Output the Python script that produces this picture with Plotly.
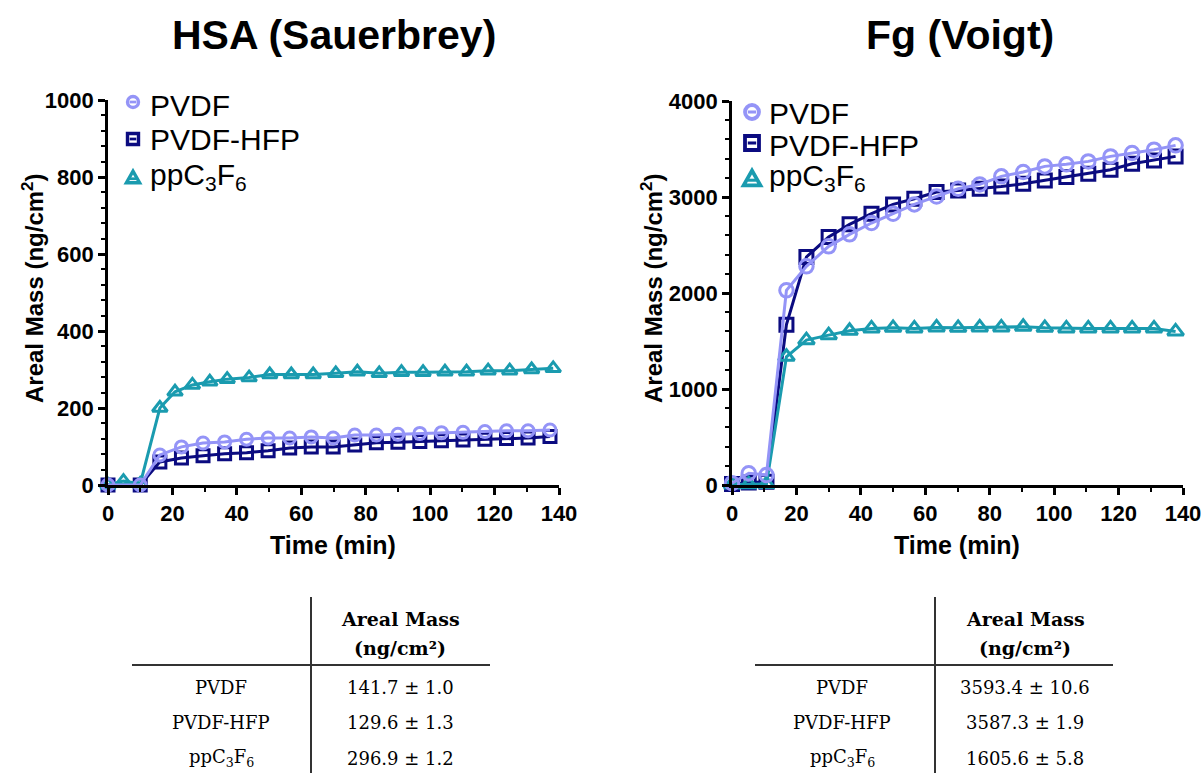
import plotly.graph_objects as go

# ---- HSA adsorption (Sauerbrey), areal mass in ng/cm^2 ----
hsa_pvdf_t = [0, 10, 16.1, 22.8, 29.5, 36.2, 43.0, 49.7, 56.4, 63.1, 69.9, 76.6, 83.3,
              90.0, 96.8, 103.5, 110.2, 117.0, 123.7, 130.4, 137.2]
hsa_pvdf = [0, 0, 78, 99, 109, 112, 119, 122, 122, 125, 122, 130, 130,
            132, 134, 136, 137, 139, 141, 141, 143]

hsa_hfp_t = hsa_pvdf_t
hsa_hfp = [0, 0, 60, 70, 76, 81, 84, 89, 96, 99, 99, 104, 110,
           111, 113, 115, 117, 119, 121, 122, 126]

hsa_pp_t = [0, 4.8, 10, 16.1, 20.8, 26.2, 31.6, 37.0, 43.8, 50.2, 56.9, 63.7, 70.7,
            77.4, 84.2, 91.1, 97.8, 104.6, 111.3, 118.0, 124.7, 131.5, 138.2]
hsa_pp = [0, 10, 3, 200, 242, 260, 268, 275, 279, 287, 287, 287, 290,
          294, 290, 293, 293, 294, 294, 297, 297, 300, 303]

# ---- Fg adsorption (Voigt), areal mass in ng/cm^2 ----
fg_t = [0, 5.2, 10.7, 16.9, 23.1, 30.0, 36.5, 43.3, 50.0, 56.6, 63.5, 70.2, 76.9,
        83.6, 90.4, 97.1, 103.8, 110.6, 117.5, 124.2, 131.0, 137.7]
fg_pvdf = [18, 122, 104, 2028, 2278, 2486, 2611, 2729, 2826, 2923, 3006, 3086, 3131,
           3215, 3260, 3319, 3340, 3371, 3423, 3458, 3493, 3538]
fg_hfp = [10, 25, 35, 1670, 2375, 2583, 2715, 2826, 2923, 2982, 3051, 3069, 3086,
          3110, 3138, 3173, 3208, 3242, 3284, 3346, 3381, 3423]
fg_pp = [5, 8, 10, 1336, 1509, 1561, 1606, 1631, 1637, 1631, 1641, 1637, 1641,
         1641, 1648, 1637, 1631, 1631, 1631, 1631, 1631, 1600]

# ---- summary tables ----
table_rows = ["PVDF", "PVDF-HFP", "ppC<sub>3</sub>F<sub>6</sub>"]
hsa_table = ["141.7 ± 1.0", "129.6 ± 1.3", "296.9 ± 1.2"]
fg_table = ["3593.4 ± 10.6", "3587.3 ± 1.9", "1605.6 ± 5.8"]

series_names = ["PVDF", "PVDF-HFP", "ppC<sub>3</sub>F<sub>6</sub>"]
colors = ["#9494F7", "#0B0B80", "#1A9BAF"]
symbols = ["circle-open", "square-open", "triangle-up-open"]

W, H = 1204, 773
SANS = "Liberation Sans, Arial, sans-serif"
SERIF = "DejaVu Serif, serif"


def px(x):
    return x / W


def py(y):
    return 1 - y / H


fig = go.Figure()

panels = [
    ("x", "y", [(hsa_pvdf_t, hsa_pvdf), (hsa_hfp_t, hsa_hfp), (hsa_pp_t, hsa_pp)], [12, 12, 13]),
    ("x2", "y2", [(fg_t, fg_pvdf), (fg_t, fg_hfp), (fg_t, fg_pp)], [13.5, 13, 14]),
]
draw_order = [1, 2, 0]
for xa, ya, series, sizes in panels:
    for i in draw_order:
        t, v = series[i]
        fig.add_trace(go.Scatter(
            x=t, y=v, xaxis=xa, yaxis=ya, mode="lines+markers", name=series_names[i],
            line=dict(color=colors[i], width=3),
            marker=dict(symbol=symbols[i], size=sizes[i], color=colors[i],
                        line=dict(color=colors[i], width=3)),
            cliponaxis=False, showlegend=False,
        ))

axis_common = dict(
    showline=True, linecolor="black", linewidth=2.6,
    ticks="outside", ticklen=7, tickwidth=2.6, tickcolor="black",
    showgrid=False, zeroline=False,
    tickfont=dict(family=SANS, size=22, color="black", weight="bold"),
)
minor_x = dict(dtick=10, ticks="outside", ticklen=4, tickwidth=2, tickcolor="black")

fig.update_layout(
    width=W, height=H,
    margin=dict(l=0, r=0, t=0, b=0, autoexpand=False),
    paper_bgcolor="white", plot_bgcolor="white",
    showlegend=False,
    xaxis=dict(domain=[px(108), px(559)], range=[0, 140], dtick=20, anchor="y",
               minor=minor_x, **axis_common),
    yaxis=dict(domain=[py(485), py(100)], range=[0, 1000], dtick=200, anchor="x",
               minor=dict(dtick=40, ticks="outside", ticklen=4, tickwidth=2, tickcolor="black"),
               **axis_common),
    xaxis2=dict(domain=[px(732), px(1183)], range=[0, 140], dtick=20, anchor="y2",
                minor=minor_x, **axis_common),
    yaxis2=dict(domain=[py(485), py(101)], range=[0, 4000], dtick=1000, anchor="x2",
                minor=dict(dtick=200, ticks="outside", ticklen=4, tickwidth=2, tickcolor="black"),
                **axis_common),
)

annotations = []
shapes = []


def text(s, x, y, size, family=SANS, xanchor="center", angle=0):
    annotations.append(dict(text=s, x=px(x), y=py(y), xref="paper", yref="paper",
                            xanchor=xanchor, yanchor="middle", textangle=angle,
                            showarrow=False, font=dict(family=family, size=size, color="black")))


# panel titles
text("<b>HSA (Sauerbrey)</b>", 334, 35, 41)
text("<b>Fg (Voigt)</b>", 960, 35, 41)
# axis titles
for cx in [333, 957]:
    text("<b>Time (min)</b>", cx, 545, 25)
for cx in [33, 652]:
    text("<b>Areal Mass (ng/cm<sup>2</sup>)</b>", cx, 289, 24, angle=-90)


# legends: open symbol with the connecting line segment through its centre
def legend_key(i, cx, cy, d, lw, label, tx, ty):
    col = colors[i]
    r = d / 2
    common = dict(xref="paper", yref="paper", line=dict(color=col, width=lw))
    if i == 0:
        shapes.append(dict(type="circle", x0=px(cx - r), x1=px(cx + r),
                           y0=py(cy + r), y1=py(cy - r), **common))
        bar_y = cy
    elif i == 1:
        shapes.append(dict(type="rect", x0=px(cx - r), x1=px(cx + r),
                           y0=py(cy + r), y1=py(cy - r), **common))
        bar_y = cy
    else:
        w = d * 1.2
        h = d * 1.05
        path = (f"M{px(cx - w / 2)},{py(cy + h / 2)} L{px(cx)},{py(cy - h / 2)} "
                f"L{px(cx + w / 2)},{py(cy + h / 2)} Z")
        shapes.append(dict(type="path", path=path, **common))
        bar_y = cy + h * 0.15
    shapes.append(dict(type="line", x0=px(cx - r * 0.6), x1=px(cx + r * 0.6),
                       y0=py(bar_y), y1=py(bar_y), xref="paper", yref="paper",
                       line=dict(color=col, width=lw * 0.8)))
    text(label, tx, ty, 30, xanchor="left")


for i, (cy, ty) in enumerate([(102, 105), (139, 140), (177, 176)]):
    legend_key(i, 133, cy, 11, 3.4, series_names[i], 148, ty)
for i, (cy, ty) in enumerate([(112, 114), (143, 145), (178, 178)]):
    legend_key(i, 752, cy, 14, 3.8, series_names[i], 767, ty)

# summary tables
row_y = [687, 722, 758]
for vline_x, h0, h1, label_x, val_x, values in [
    (311, 132, 490, 221, 400, hsa_table),
    (935, 755, 1113, 842, 1025, fg_table),
]:
    shapes.append(dict(type="line", xref="paper", yref="paper",
                       x0=px(vline_x), x1=px(vline_x), y0=py(597), y1=py(773),
                       line=dict(color="#333333", width=2)))
    shapes.append(dict(type="line", xref="paper", yref="paper",
                       x0=px(h0), x1=px(h1), y0=py(665), y1=py(665),
                       line=dict(color="#333333", width=2)))
    text("<b>Areal Mass</b>", val_x, 619, 19, family=SERIF)
    text("<b>(ng/cm²)</b>", val_x, 648, 19, family=SERIF)
    for ry, lab, val in zip(row_y, table_rows, values):
        text(lab, label_x, ry, 18, family=SERIF)
        text(val, val_x, ry, 18, family=SERIF)

fig.update_layout(annotations=annotations, shapes=shapes)

fig.write_html("out.html")
